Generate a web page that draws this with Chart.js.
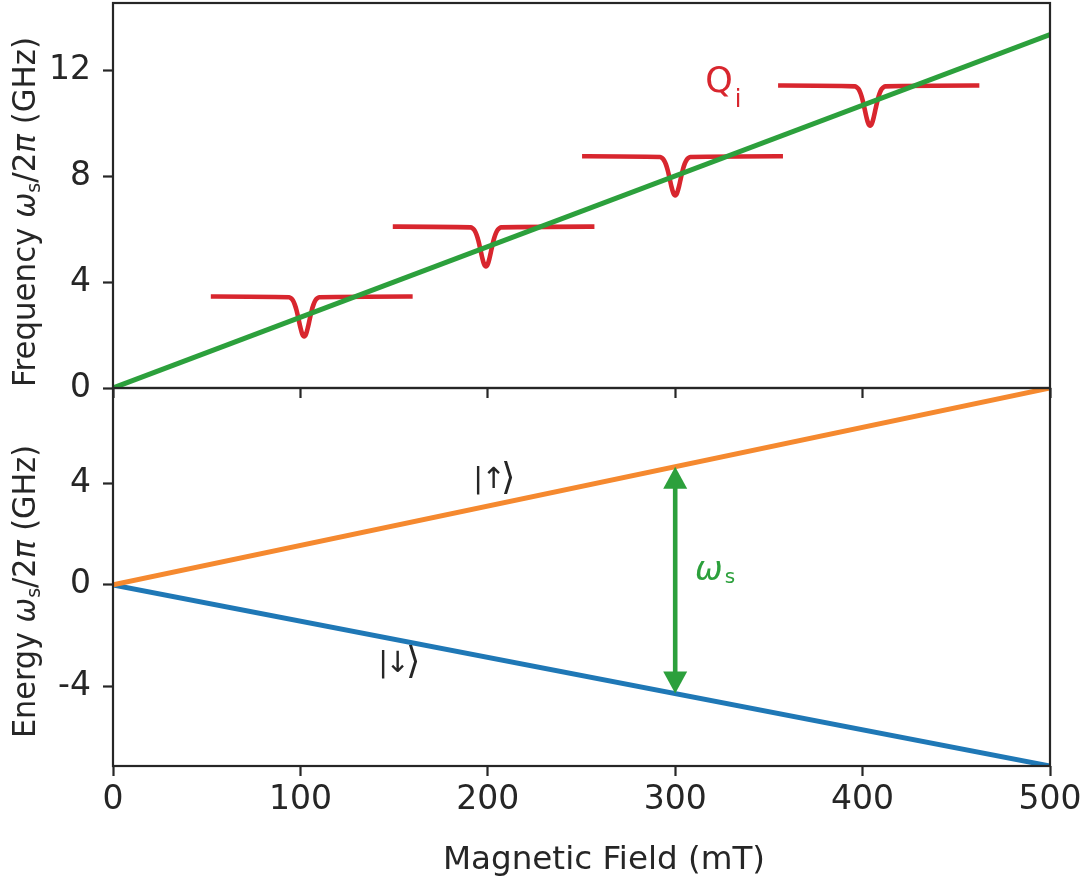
<!DOCTYPE html>
<html>
<head>
<meta charset="utf-8">
<script src="https://cdn.jsdelivr.net/npm/chart.js@4.4.1/dist/chart.umd.min.js"></script>
<style>
  html, body { margin: 0; padding: 0; background: #fff; }
  #wrap { position: relative; width: 1081px; height: 881px; }
  #wrap canvas { position: absolute; left: 0; top: 0; }
</style>
</head>
<body>
<div id="wrap">
  <canvas id="chart-energy" width="1081" height="881"></canvas>
  <canvas id="chart-freq" width="1081" height="881"></canvas>
</div>
<script>
// Spin qubit / resonator sketch: frequency panel on top, Zeeman energy panel below.

// ── data ────────────────────────────────────────────────────────────────
const fieldRange  = [0, 500];
const fieldTicks  = [0, 100, 200, 300, 400, 500];
const freqRange   = [0, 14.55];
const freqTicks   = [0, 4, 8, 12];
const energyRange = [-7.12, 7.74];
const energyTicks = [-4, 0, 4];

const qubitField = [0, 500];
const qubitFreq  = [0, 13.36];

// resonator lines with their Q_i dips
const res1Field = [52.2, 94, 95, 96, 97, 98, 99, 100, 101, 102, 103, 104, 105, 106, 107, 108, 109, 110, 159.9];
const res1Freq  = [3.46, 3.43, 3.39, 3.31, 3.15, 2.92, 2.61, 2.29, 2.04, 1.95, 2.04, 2.29, 2.61, 2.92, 3.15, 3.31, 3.39, 3.43, 3.46];
const res2Field = [149.3, 191, 192, 193, 194, 195, 196, 197, 198, 199, 200, 201, 202, 203, 204, 205, 206, 207, 256.9];
const res2Freq  = [6.10, 6.07, 6.03, 5.95, 5.79, 5.56, 5.25, 4.93, 4.68, 4.59, 4.68, 4.93, 5.25, 5.56, 5.79, 5.95, 6.03, 6.07, 6.10];
const res3Field = [250.3, 292, 293, 294, 295, 296, 297, 298, 299, 300, 301, 302, 303, 304, 305, 306, 307, 308, 357.5];
const res3Freq  = [8.76, 8.73, 8.69, 8.61, 8.46, 8.23, 7.93, 7.61, 7.37, 7.28, 7.37, 7.61, 7.93, 8.23, 8.46, 8.61, 8.69, 8.73, 8.76];
const res4Field = [354.9, 396, 397, 398, 399, 400, 401, 402, 403, 404, 405, 406, 407, 408, 409, 410, 411, 412, 462.3];
const res4Freq  = [11.43, 11.40, 11.36, 11.28, 11.12, 10.88, 10.57, 10.25, 10.00, 9.91, 10.00, 10.25, 10.57, 10.88, 11.12, 11.28, 11.36, 11.40, 11.43];

const levelField     = [0, 500];
const spinUpEnergy   = [0, 7.74];
const spinDownEnergy = [0, -7.12];

const arrowField  = [300, 300];
const arrowEnergy = [4.64, -4.27];

// ── look ────────────────────────────────────────────────────────────────
const FONT   = "'DejaVu Sans', sans-serif";
const INK    = "#262626";
const GREEN  = "#2ca03c";
const RED    = "#d8262e";
const ORANGE = "#f5892f";
const BLUE   = "#1f78b6";
const LW     = 5;

const pts = (xs, ys) => xs.map((x, i) => ({ x, y: ys[i] }));

function xScale(showLabels) {
  return {
    type: "linear",
    min: fieldRange[0],
    max: fieldRange[1],
    afterBuildTicks: s => { s.ticks = fieldTicks.map(v => ({ value: v })); },
    afterFit: s => { s.height = showLabels ? 115 : 493; s.paddingLeft = 0; s.paddingRight = 0; },
    border: { display: false },
    grid: { drawOnChartArea: false, drawTicks: true, tickLength: 10, tickWidth: 2.2, tickColor: INK },
    ticks: { display: showLabels, padding: 5, color: INK, maxRotation: 0, font: { family: FONT, size: 33 } },
  };
}

function yScale(range, ticks) {
  return {
    type: "linear",
    min: range[0],
    max: range[1],
    afterBuildTicks: s => { s.ticks = ticks.map(v => ({ value: v })); },
    afterFit: s => { s.width = 113; s.paddingTop = 0; s.paddingBottom = 0; },
    border: { display: false },
    grid: { drawOnChartArea: false, drawTicks: true, tickLength: 10, tickWidth: 2.2, tickColor: INK },
    ticks: { padding: 12, color: INK, font: { family: FONT, size: 33 } },
  };
}

// draw a run of text pieces (font / vertical shift per piece) starting at x, baseline y
function measureRich(ctx, parts) {
  let total = 0;
  parts.forEach(p => { ctx.font = p.font; p.w = ctx.measureText(p.t).width; total += p.w + (p.gap || 0); });
  return total;
}

function drawRich(ctx, x, y, parts, align) {
  const total = measureRich(ctx, parts);
  let cx = align === "center" ? x - total / 2 : x;
  ctx.textBaseline = "alphabetic";
  ctx.textAlign = "left";
  parts.forEach(p => {
    ctx.font = p.font;
    ctx.fillText(p.t, cx, y + (p.dy || 0));
    cx += p.w + (p.gap || 0);
  });
}

// glyphs placed one by one, centred at x + dx
function drawGlyphs(ctx, x, y, glyphs) {
  ctx.textBaseline = "alphabetic";
  ctx.textAlign = "center";
  glyphs.forEach(g => { ctx.font = g.font; ctx.fillText(g.t, x + g.dx, y + (g.dy || 0)); });
}

function axisTitleParts(word) {
  return [
    { t: word + " ", font: `32px ${FONT}` },
    { t: "ω", font: `italic 31px ${FONT}` },
    { t: "s", font: `20px ${FONT}`, dy: 5 },
    { t: "/2", font: `32px ${FONT}` },
    { t: "π", font: `italic 32px ${FONT}` },
    { t: " (GHz)", font: `32px ${FONT}` },
  ];
}

// rotated y title squeezed to the span it has in the reference
function drawYTitle(ctx, word, yFrom, yTo) {
  const parts = axisTitleParts(word);
  const total = measureRich(ctx, parts);
  const span = yFrom - yTo;
  ctx.save();
  ctx.fillStyle = INK;
  ctx.translate(35, (yFrom + yTo) / 2);
  ctx.rotate(-Math.PI / 2);
  ctx.scale(span / total, 1);
  drawRich(ctx, 0, 0, parts, "center");
  ctx.restore();
}

const framePlugin = {
  id: "frame",
  afterDatasetsDraw(chart) {
    const { ctx, chartArea: a } = chart;
    ctx.save();
    ctx.strokeStyle = INK;
    ctx.lineWidth = 2.2;
    ctx.strokeRect(a.left, a.top, a.right - a.left, a.bottom - a.top);
    ctx.restore();
  },
};

const lineDs = (label, data, color, width) => ({
  label, data, borderColor: color, borderWidth: width,
  pointRadius: 0, fill: false, tension: 0, borderCapStyle: "butt",
});

const resDs = (label, xs, ys) => Object.assign(lineDs(label, pts(xs, ys), RED, LW - 0.4), {
  cubicInterpolationMode: "monotone",
});

// ── top: frequency panel ────────────────────────────────────────────────
const freqAnnotations = {
  id: "freqAnnotations",
  afterDatasetsDraw(chart) {
    const { ctx, scales: { x, y } } = chart;
    ctx.save();
    ctx.fillStyle = RED;
    drawRich(ctx, x.getPixelForValue(316), y.getPixelForValue(11.2), [
      { t: "Q", font: `35px ${FONT}`, gap: 2 },
      { t: "i", font: `24px ${FONT}`, dy: 15 },
    ]);
    ctx.restore();
  },
  afterDraw(chart) {
    drawYTitle(chart.ctx, "Frequency", 387, 37);
  },
};

new Chart(document.getElementById("chart-freq"), {
  type: "line",
  data: {
    datasets: [
      lineDs("qubit", pts(qubitField, qubitFreq), GREEN, LW),
      resDs("res1", res1Field, res1Freq),
      resDs("res2", res2Field, res2Freq),
      resDs("res3", res3Field, res3Freq),
      resDs("res4", res4Field, res4Freq),
    ],
  },
  options: {
    responsive: false,
    animation: false,
    events: [],
    layout: { padding: { left: 0, right: 31, top: 3, bottom: 0 } },
    plugins: { legend: { display: false }, tooltip: { enabled: false } },
    scales: { x: xScale(false), y: yScale(freqRange, freqTicks) },
  },
  plugins: [framePlugin, freqAnnotations],
});

// ── bottom: energy panel ────────────────────────────────────────────────
const energyAnnotations = {
  id: "energyAnnotations",
  afterDatasetsDraw(chart) {
    const { ctx, scales: { x, y } } = chart;
    ctx.save();

    // double-headed arrow between the two levels
    const ax = x.getPixelForValue(arrowField[0]);
    const yTop = y.getPixelForValue(arrowEnergy[0]);
    const yBot = y.getPixelForValue(arrowEnergy[1]);
    const headLen = 22, headHalf = 12;
    ctx.strokeStyle = GREEN;
    ctx.fillStyle = GREEN;
    ctx.lineWidth = 4.6;
    ctx.beginPath();
    ctx.moveTo(ax, yTop + headLen - 2);
    ctx.lineTo(ax, yBot - headLen + 2);
    ctx.stroke();
    ctx.beginPath();
    ctx.moveTo(ax, yTop);
    ctx.lineTo(ax - headHalf, yTop + headLen);
    ctx.lineTo(ax + headHalf, yTop + headLen);
    ctx.closePath();
    ctx.fill();
    ctx.beginPath();
    ctx.moveTo(ax, yBot);
    ctx.lineTo(ax - headHalf, yBot - headLen);
    ctx.lineTo(ax + headHalf, yBot - headLen);
    ctx.closePath();
    ctx.fill();

    // ω_s label
    drawRich(ctx, x.getPixelForValue(310.6), y.getPixelForValue(0.2), [
      { t: "ω", font: `italic 33px ${FONT}`, gap: 2 },
      { t: "s", font: `20px ${FONT}`, dy: 3 },
    ]);

    // spin state labels
    ctx.fillStyle = INK;
    const ketFont = `29px ${FONT}`;
    const brFont = `37px ${FONT}`;
    drawGlyphs(ctx, x.getPixelForValue(194.9), y.getPixelForValue(3.88), [
      { t: "|", font: ketFont, dx: 0, dy: 2 }, { t: "↑", font: ketFont, dx: 15.5, dy: 2 }, { t: "⟩", font: brFont, dx: 30, dy: 3 },
    ]);
    drawGlyphs(ctx, x.getPixelForValue(144.2), y.getPixelForValue(-3.36), [
      { t: "|", font: ketFont, dx: 0, dy: 2 }, { t: "↓", font: ketFont, dx: 14.5, dy: 2 }, { t: "⟩", font: brFont, dx: 30, dy: 3 },
    ]);
    ctx.restore();
  },
  afterDraw(chart) {
    const { ctx } = chart;
    drawYTitle(ctx, "Energy", 738, 445);
    ctx.save();
    ctx.fillStyle = INK;
    drawRich(ctx, 604, 869, [{ t: "Magnetic Field (mT)", font: `32.6px ${FONT}` }], "center");
    ctx.restore();
  },
};

new Chart(document.getElementById("chart-energy"), {
  type: "line",
  data: {
    datasets: [
      lineDs("spin up", pts(levelField, spinUpEnergy), ORANGE, LW),
      lineDs("spin down", pts(levelField, spinDownEnergy), BLUE, LW),
    ],
  },
  options: {
    responsive: false,
    animation: false,
    events: [],
    layout: { padding: { left: 0, right: 31, top: 388, bottom: 0 } },
    plugins: { legend: { display: false }, tooltip: { enabled: false } },
    scales: { x: xScale(true), y: yScale(energyRange, energyTicks) },
  },
  plugins: [framePlugin, energyAnnotations],
});
</script>
</body>
</html>
